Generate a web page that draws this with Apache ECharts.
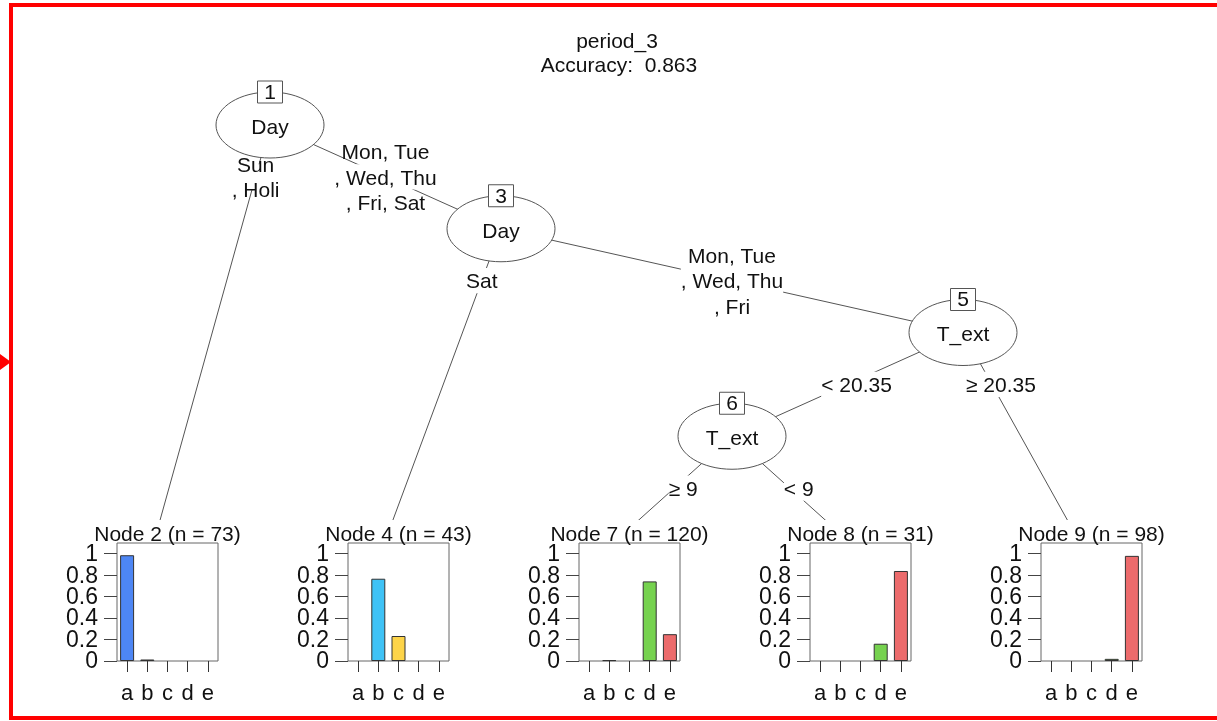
<!DOCTYPE html>
<html><head><meta charset="utf-8">
<script src="https://cdn.jsdelivr.net/npm/echarts@6/dist/echarts.min.js"></script>
<style>html,body{margin:0;padding:0;background:#fff}#c{width:1217px;height:721px}</style>
</head><body><div id="c"></div>
<script>
// ---------------- data ----------------
const titleLine1 = 'period_3';
const titleLine2 = 'Accuracy:  0.863';
const nodeIds     = [1, 2, 3, 4, 5, 6, 7, 8, 9];
const nodeParents = [0, 1, 1, 3, 3, 5, 6, 6, 5];
const splitVars   = ['Day', null, 'Day', null, 'T_ext', 'T_ext', null, null, null];
const edgeLabels  = [
  null,
  ['Sun', ', Holi'],
  ['Mon, Tue', ', Wed, Thu', ', Fri, Sat'],
  ['Sat'],
  ['Mon, Tue', ', Wed, Thu', ', Fri'],
  ['< 20.35'],
  ['\u2265 9'],
  ['< 9'],
  ['\u2265 20.35']
];
const classes = ['a', 'b', 'c', 'd', 'e'];
const leafIds = [2, 4, 7, 8, 9];
const leafN   = [73, 43, 120, 31, 98];
const node2Props = [0.986, 0.014, 0, 0, 0];
const node4Props = [0, 0.767, 0.233, 0, 0];
const node7Props = [0, 0.008, 0, 0.742, 0.25];
const node8Props = [0, 0, 0, 0.161, 0.839];
const node9Props = [0, 0, 0, 0.02, 0.98];
const leafProps = [node2Props, node4Props, node7Props, node8Props, node9Props];
const yTickValues = [0, 0.2, 0.4, 0.6, 0.8, 1];
const yTickLabels = ['0', '0.2', '0.4', '0.6', '0.8', '1'];

// ---------------- styles / layout ----------------
const classColors = ['#4d86f4', '#3ec2f6', '#fdd449', '#76d24f', '#ec6b6c'];
const FONT_FAMILY = '"Liberation Sans", Arial, sans-serif';
const FS = 21;
const TY = 2; // visual vertical adjustment of text
const treeLeft = 39, treeWidth = 1155, treeTop = 125, treeHeight = 415;
const panelShift = 13, panelW = 101, panelTop = 543, panelH = 118;

// tree layout
const children = {};
nodeIds.forEach((id, i) => { const p = nodeParents[i]; if (p) (children[p] = children[p] || []).push(id); });
function nLeaves(id) { const c = children[id]; return c ? c.reduce((s, k) => s + nLeaves(k), 0) : 1; }
function innerDepth(id, d) { const c = children[id]; return c ? Math.max(d, ...c.map(k => innerDepth(k, d + 1))) : 0; }
const rootId = nodeIds[nodeParents.indexOf(0)];
const leafDepth = innerDepth(rootId, 1) + 1;
const totalLeaves = nLeaves(rootId);
const pos = {};
function layout(id, left, depth) {
  const c = children[id];
  if (!c) { pos[id] = { x: left + 0.5, d: leafDepth }; return; }
  pos[id] = { x: left + nLeaves(c[0]), d: depth };
  let l = left;
  c.forEach(k => { layout(k, l, depth + 1); l += nLeaves(k); });
}
layout(rootId, 0, 1);

const edges = [];
nodeIds.forEach((id, i) => { if (nodeParents[i]) edges.push({ parent: nodeParents[i], child: id }); });
const edgeLineData = edges.map(e => [pos[e.parent].x, pos[e.parent].d, pos[e.child].x, pos[e.child].d]);
const edgeLabelData = edges.map(e => {
  const p = pos[e.parent], c = pos[e.child];
  const t = 0.5 / (c.d - p.d);
  return [p.x + (c.x - p.x) * t, p.d + 0.5];
});
const innerIds = nodeIds.filter(id => children[id]);
const innerData = innerIds.map(id => [pos[id].x, pos[id].d]);
const leafData = leafIds.map(id => [pos[id].x, pos[id].d]);

const ctx = document.createElement('canvas').getContext('2d');
ctx.font = FS + 'px ' + FONT_FAMILY;
const measure = s => ctx.measureText(s).width;

const slotPx = treeWidth / totalLeaves;

const grids = [{ left: treeLeft, top: treeTop, width: treeWidth, height: treeHeight, show: false }];
const xAxes = [{ type: 'value', gridIndex: 0, min: 0, max: totalLeaves, show: false }];
const yAxes = [{ type: 'value', gridIndex: 0, min: 1, max: leafDepth, inverse: true, show: false }];
const series = [];

leafIds.forEach((id, i) => {
  const cx = treeLeft + pos[id].x * slotPx + panelShift;
  grids.push({ left: cx - panelW / 2, top: panelTop, width: panelW, height: panelH, show: true,
    backgroundColor: '#fff', borderColor: '#666', borderWidth: 1 });
  xAxes.push({ type: 'category', gridIndex: i + 1, data: classes,
    axisLine: { show: false },
    axisTick: { show: true, alignWithLabel: true, length: 11, lineStyle: { color: '#333' } },
    axisLabel: { margin: 22, fontSize: 22, color: '#111', fontFamily: FONT_FAMILY },
    splitLine: { show: false } });
  yAxes.push({ type: 'value', gridIndex: i + 1, min: 0, max: 1.1,
    axisLine: { show: false },
    axisTick: { show: true, length: 13, customValues: yTickValues, lineStyle: { color: '#444' } },
    axisLabel: { customValues: yTickValues, margin: 19, fontSize: 20, color: 'rgba(0,0,0,0)', fontFamily: FONT_FAMILY },
    splitLine: { show: false } });
  series.push({ type: 'bar', xAxisIndex: i + 1, yAxisIndex: i + 1, barWidth: 14, silent: true,
    data: leafProps[i].map((v, j) => ({ value: v,
      itemStyle: { color: classColors[j], borderColor: '#333', borderWidth: v > 0 ? 1 : 0, opacity: v > 0 ? 1 : 0 } })) });
  // y tick labels placed through the panel's own y scale
  series.push({ type: 'custom', coordinateSystem: 'cartesian2d', xAxisIndex: i + 1, yAxisIndex: i + 1, silent: true, z: 5,
    data: yTickValues.map(v => [0, v]),
    renderItem: (params, api) => {
      const p = api.coord([api.value(0), api.value(1)]);
      const band = api.size([1, 0])[0];
      return { type: 'text', x: p[0] - band / 2 - 19, y: p[1] + 1, style: { text: yTickLabels[params.dataIndex],
        fill: '#111', font: '23px ' + FONT_FAMILY, align: 'right', verticalAlign: 'middle' } };
    } });
});

// edges
series.push({ type: 'custom', coordinateSystem: 'cartesian2d', xAxisIndex: 0, yAxisIndex: 0, silent: true, z: 1,
  data: edgeLineData,
  renderItem: (params, api) => {
    const a = api.coord([api.value(0), api.value(1)]);
    const b = api.coord([api.value(2), api.value(3)]);
    return { type: 'line', shape: { x1: a[0], y1: a[1], x2: b[0], y2: b[1] }, style: { stroke: '#555', lineWidth: 1 } };
  } });
// leaf covers + titles
series.push({ type: 'custom', coordinateSystem: 'cartesian2d', xAxisIndex: 0, yAxisIndex: 0, silent: true, z: 2,
  data: leafData,
  renderItem: (params, api) => {
    const p = api.coord([api.value(0), api.value(1)]);
    const w = api.size([1, 0])[0];
    const i = params.dataIndex;
    return { type: 'group', children: [
      { type: 'rect', shape: { x: p[0] - w / 2 + 1, y: p[1] - 20, width: w - 2, height: 22 }, style: { fill: '#fff' } },
      { type: 'text', x: p[0] + panelShift, y: p[1] - 7 + TY, style: { text: 'Node ' + leafIds[i] + ' (n = ' + leafN[i] + ')',
        fill: '#111', font: FS + 'px ' + FONT_FAMILY, align: 'center', verticalAlign: 'middle' } }
    ] };
  } });
// edge labels
series.push({ type: 'custom', coordinateSystem: 'cartesian2d', xAxisIndex: 0, yAxisIndex: 0, silent: true, z: 3,
  data: edgeLabelData,
  renderItem: (params, api) => {
    const e = edges[params.dataIndex];
    const lines = edgeLabels[nodeIds.indexOf(e.child)];
    const p = api.coord([api.value(0), api.value(1)]);
    const numeric = /^[<\u2265]/.test(lines[0]);
    const x = p[0] + (numeric ? 9 : 0);
    const w = Math.max(...lines.map(measure));
    return { type: 'group', children: [
      { type: 'rect', shape: { x: x - w / 2, y: p[1] - 12.6, width: w, height: 25.2 }, style: { fill: '#fff' } },
      { type: 'text', x: x, y: p[1] + TY, style: { text: lines.join('\n'), fill: '#111', font: FS + 'px ' + FONT_FAMILY,
        align: 'center', verticalAlign: 'middle', lineHeight: 25.5 } }
    ] };
  } });
// inner nodes
series.push({ type: 'custom', coordinateSystem: 'cartesian2d', xAxisIndex: 0, yAxisIndex: 0, silent: true, z: 4,
  data: innerData,
  renderItem: (params, api) => {
    const id = innerIds[params.dataIndex];
    const p = api.coord([api.value(0), api.value(1)]);
    const rx = 54, ry = 33;
    return { type: 'group', children: [
      { type: 'ellipse', shape: { cx: p[0], cy: p[1], rx: rx, ry: ry }, style: { fill: '#fff', stroke: '#555', lineWidth: 1 } },
      { type: 'text', x: p[0], y: p[1] + 1 + TY, style: { text: splitVars[nodeIds.indexOf(id)], fill: '#111',
        font: FS + 'px ' + FONT_FAMILY, align: 'center', verticalAlign: 'middle' } },
      { type: 'rect', shape: { x: p[0] - 12.5, y: p[1] - ry - 11, width: 25, height: 22 }, style: { fill: '#fff', stroke: '#555', lineWidth: 1 } },
      { type: 'text', x: p[0], y: p[1] - ry + 1, style: { text: String(id), fill: '#111',
        font: FS + 'px ' + FONT_FAMILY, align: 'center', verticalAlign: 'middle' } }
    ] };
  } });

const chart = echarts.init(document.getElementById('c'), null, { renderer: 'canvas' });
chart.setOption({
  animation: false,
  backgroundColor: '#fff',
  textStyle: { fontFamily: FONT_FAMILY },
  grid: grids, xAxis: xAxes, yAxis: yAxes, series: series,
  graphic: [
    { type: 'text', x: 617, y: 40 + TY, style: { text: titleLine1, fill: '#111', font: FS + 'px ' + FONT_FAMILY, align: 'center', verticalAlign: 'middle' } },
    { type: 'text', x: 619, y: 64 + TY, style: { text: titleLine2, fill: '#111', font: FS + 'px ' + FONT_FAMILY, align: 'center', verticalAlign: 'middle' } },
    { type: 'rect', shape: { x: 11, y: 5, width: 1300, height: 713 }, style: { fill: null, stroke: '#ff0000', lineWidth: 4 }, z: 20 },
    { type: 'polygon', shape: { points: [[0, 354], [11, 362], [0, 370]] }, style: { fill: '#ff0000' }, z: 20 }
  ]
});
</script></body></html>
